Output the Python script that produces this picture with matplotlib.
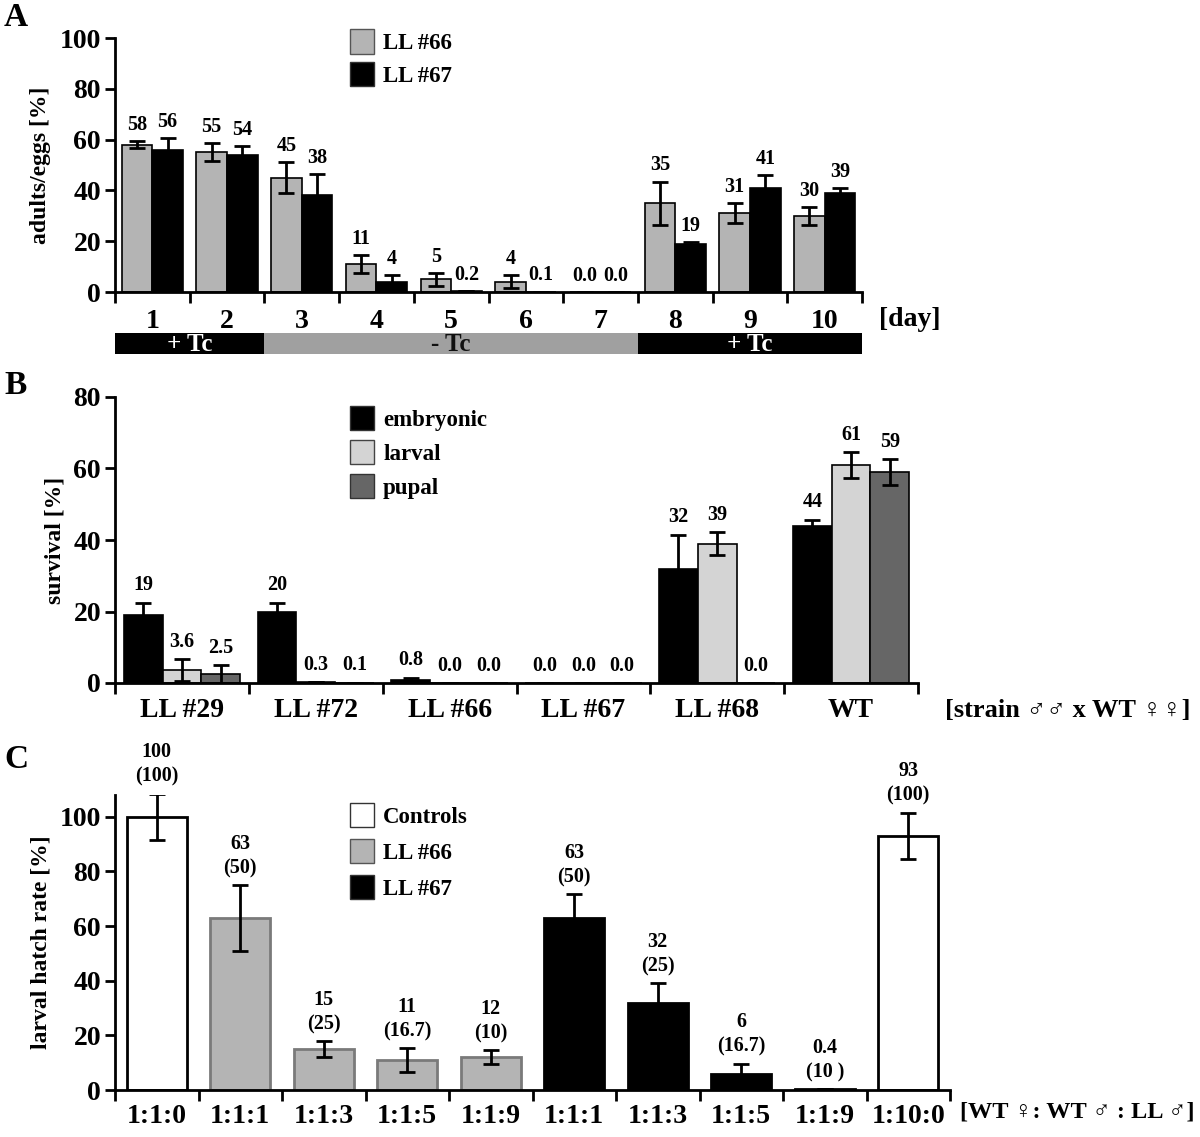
import matplotlib
matplotlib.use("Agg")
import matplotlib.pyplot as plt
from matplotlib.patches import Patch
import numpy as np

plt.rcParams['font.family'] = ['Liberation Serif', 'DejaVu Sans']
plt.rcParams['font.weight'] = 'bold'

# ---------------- Panel A data ----------------
days = ["1", "2", "3", "4", "5", "6", "7", "8", "9", "10"]
a_ll66 = [58, 55, 45, 11, 5, 4, 0, 35, 31, 30]
a_ll66_err = [1.5, 3.5, 6, 3.5, 2.5, 2.5, 0, 8.5, 4, 3.5]
a_ll66_lbl = ["58", "55", "45", "11", "5", "4", "0.0", "35", "31", "30"]
a_ll67 = [56, 54, 38, 4, 0.2, 0.1, 0, 19, 41, 39]
a_ll67_err = [4.5, 3.5, 8.5, 2.5, 0, 0, 0, 0.5, 5, 2]
a_ll67_lbl = ["56", "54", "38", "4", "0.2", "0.1", "0.0", "19", "41", "39"]
tc_labels = ["+ Tc", "- Tc", "+ Tc"]
tc_start_day = [1, 3, 8]
tc_end_day = [2, 7, 10]

# ---------------- Panel B data ----------------
strains = ["LL #29", "LL #72", "LL #66", "LL #67", "LL #68", "WT"]
b_emb = [19, 20, 0.8, 0, 32, 44]
b_emb_err = [3.5, 2.5, 0.7, 0, 9.5, 1.7]
b_emb_lbl = ["19", "20", "0.8", "0.0", "32", "44"]
b_lar = [3.6, 0.3, 0, 0, 39, 61]
b_lar_err = [3, 0, 0, 0, 3.3, 3.7]
b_lar_lbl = ["3.6", "0.3", "0.0", "0.0", "39", "61"]
b_pup = [2.5, 0.1, 0, 0, 0, 59]
b_pup_err = [2.5, 0, 0, 0, 0, 3.7]
b_pup_lbl = ["2.5", "0.1", "0.0", "0.0", "0.0", "59"]

# ---------------- Panel C data ----------------
ratios = ["1:1:0", "1:1:1", "1:1:3", "1:1:5", "1:1:9", "1:1:1", "1:1:3", "1:1:5", "1:1:9", "1:10:0"]
c_vals = [100, 63, 15, 11, 12, 63, 32, 6, 0.4, 93]
c_err = [8.5, 12, 3, 4.4, 2.6, 8.6, 7.1, 3.7, 0, 8.5]
c_obs = ["100", "63", "15", "11", "12", "63", "32", "6", "0.4", "93"]
c_exp = ["(100)", "(50)", "(25)", "(16.7)", "(10)", "(50)", "(25)", "(16.7)", "(10 )", "(100)"]
c_group = ["Controls", "LL #66", "LL #66", "LL #66", "LL #66",
           "LL #67", "LL #67", "LL #67", "LL #67", "Controls"]

GRAY_A = "#b4b4b4"
LIGHT = "#d4d4d4"
DARK = "#666666"
TC_GRAY = "#a0a0a0"

TICK_FS = 20
VAL_FS = 14.5
LEG_FS = 16.5
YLAB_FS = 17

W, H = 1200, 1137
fig = plt.figure(figsize=(W / 100, H / 100), dpi=100)


def fbox(x0, y0, x1, y1):
    return [x0 / W, 1 - y1 / H, (x1 - x0) / W, (y1 - y0) / H]


def style_axes(ax, n, ymax, yticks):
    ax.set_xlim(-0.5, n - 0.5)
    ax.set_ylim(0, ymax)
    for s in ["top", "right"]:
        ax.spines[s].set_visible(False)
    for s in ["left", "bottom"]:
        ax.spines[s].set_linewidth(2)
    ax.set_yticks(yticks)
    ax.set_xticks(np.arange(-0.5, n, 1.0))
    ax.set_xticklabels([])
    ax.tick_params(axis="x", which="major", direction="out", length=8, width=2)
    ax.tick_params(axis="y", which="major", direction="out", length=7, width=2,
                   labelsize=TICK_FS, pad=3)
    for t in ax.get_yticklabels():
        t.set_fontweight("bold")


err_kw = dict(ecolor="black", elinewidth=2, capsize=6, capthick=2)
leg_kw = dict(loc="upper left", frameon=False, prop={"size": LEG_FS, "weight": "bold"},
              handlelength=1.05, handleheight=1.25, handletextpad=0.4, borderaxespad=0)

# ================= Panel A =================
axA = fig.add_axes(fbox(115, 38, 862, 292))
x = np.arange(len(days))
bw = 0.41
axA.bar(x - bw / 2, a_ll66, bw, color=GRAY_A, edgecolor="black", linewidth=1.2,
        yerr=a_ll66_err, error_kw=err_kw, label="LL #66", zorder=2)
axA.bar(x + bw / 2, a_ll67, bw, color="black", edgecolor="black", linewidth=1.2,
        yerr=a_ll67_err, error_kw=err_kw, label="LL #67", zorder=2)
style_axes(axA, len(days), 100, [0, 20, 40, 60, 80, 100])
axA.set_xticks(x, minor=True)
axA.set_xticklabels(days, minor=True, fontsize=TICK_FS, fontweight="bold")
axA.tick_params(axis="x", which="minor", length=0, pad=12)
for xi, v, e, l in zip(x - bw / 2, a_ll66, a_ll66_err, a_ll66_lbl):
    axA.text(xi, v + e + 2.5, l, ha="center", va="bottom", fontsize=VAL_FS, fontweight="bold")
for xi, v, e, l in zip(x + bw / 2, a_ll67, a_ll67_err, a_ll67_lbl):
    axA.text(xi, v + e + 2.5, l, ha="center", va="bottom", fontsize=VAL_FS, fontweight="bold")
axA.set_ylabel("adults/eggs [%]", fontsize=YLAB_FS, fontweight="bold", labelpad=6)
axA.legend(handles=[Patch(facecolor=GRAY_A, edgecolor="#555555", label="LL #66"),
                    Patch(facecolor="black", edgecolor="#333333", label="LL #67")],
           bbox_to_anchor=(0.302, 1.07), labelspacing=0.35, **leg_kw)
fig.text(910 / W, 1 - 320 / H, "[day]", fontsize=TICK_FS, fontweight="bold", ha="center", va="center")

# Tc bar
axT = fig.add_axes(fbox(115, 333, 862, 354))
axT.set_xlim(-0.5, len(days) - 0.5)
axT.set_ylim(0, 1)
axT.axis("off")
for lbl, s, e in zip(tc_labels, tc_start_day, tc_end_day):
    col = "black" if lbl.startswith("+") else TC_GRAY
    tcol = "white" if lbl.startswith("+") else "#111111"
    axT.broken_barh([(s - 1.5, e - s + 1)], (0, 1), facecolors=col)
    axT.text((s + e) / 2 - 1, 0.45, lbl, ha="center", va="center", color=tcol,
             fontsize=18, fontweight="bold")

# ================= Panel B =================
axB = fig.add_axes(fbox(115, 397, 918, 683))
xb = np.arange(len(strains))
bwb = 0.29
series_b = [(b_emb, b_emb_err, b_emb_lbl, "black", "embryonic"),
            (b_lar, b_lar_err, b_lar_lbl, LIGHT, "larval"),
            (b_pup, b_pup_err, b_pup_lbl, DARK, "pupal")]
for k, (vals, errs, lbls, col, name) in enumerate(series_b):
    pos = xb + (k - 1) * bwb
    axB.bar(pos, vals, bwb, color=col, edgecolor="black", linewidth=1.2,
            yerr=errs, error_kw=err_kw, label=name, zorder=2)
    for xi, v, e, l in zip(pos, vals, errs, lbls):
        axB.text(xi, v + e + 2.0, l, ha="center", va="bottom", fontsize=VAL_FS, fontweight="bold")
style_axes(axB, len(strains), 80, [0, 20, 40, 60, 80])
axB.set_xticks(xb, minor=True)
axB.set_xticklabels(strains, minor=True, fontsize=TICK_FS, fontweight="bold")
axB.tick_params(axis="x", which="minor", length=0, pad=11)
axB.set_ylabel("survival [%]", fontsize=YLAB_FS, fontweight="bold", labelpad=6)
axB.legend(handles=[Patch(facecolor="black", edgecolor="#333333", label="embryonic"),
                    Patch(facecolor=LIGHT, edgecolor="#444444", label="larval"),
                    Patch(facecolor=DARK, edgecolor="#333333", label="pupal")],
           bbox_to_anchor=(0.281, 1.0), labelspacing=0.4, **leg_kw)
fig.text(945 / W, 1 - 710 / H, "[strain ♂♂ x WT ♀♀]", fontsize=19, fontweight="bold",
         ha="left", va="center")

# ================= Panel C =================
axC = fig.add_axes(fbox(115, 795, 950, 1090))
xc = np.arange(len(ratios))
cmap = {"Controls": ("white", "black"), "LL #66": (GRAY_A, "#7a7a7a"), "LL #67": ("black", "black")}
fcs = [cmap[g][0] for g in c_group]
ecs = [cmap[g][1] for g in c_group]
axC.bar(xc, c_vals, 0.72, color=fcs, edgecolor=ecs, linewidth=2,
        yerr=c_err, error_kw=err_kw, zorder=2)
for xi, v, e, o, ex in zip(xc, c_vals, c_err, c_obs, c_exp):
    axC.text(xi, v + e + 2.5, o + "\n" + ex, ha="center", va="bottom", fontsize=VAL_FS,
             fontweight="bold", linespacing=1.3)
style_axes(axC, len(ratios), 108, [0, 20, 40, 60, 80, 100])
axC.set_xticks(xc, minor=True)
axC.set_xticklabels(ratios, minor=True, fontsize=TICK_FS, fontweight="bold")
axC.tick_params(axis="x", which="minor", length=0, pad=10)
axC.set_ylabel("larval hatch rate [%]", fontsize=YLAB_FS, fontweight="bold", labelpad=6)
axC.legend(handles=[Patch(facecolor="white", edgecolor="#333333", label="Controls"),
                    Patch(facecolor=GRAY_A, edgecolor="#555555", label="LL #66"),
                    Patch(facecolor="black", edgecolor="#333333", label="LL #67")],
           bbox_to_anchor=(0.27, 1.005), labelspacing=0.5, **leg_kw)
fig.text(960 / W, 1 - 1112 / H, "[WT ♀: WT ♂ : LL ♂]", fontsize=17.5, fontweight="bold",
         ha="left", va="center")

# panel letters
for lbl, yy in [("A", 17), ("B", 385), ("C", 760)]:
    fig.text(4 / W, 1 - yy / H, lbl, fontsize=24, fontweight="bold", ha="left", va="center")

fig.savefig("out.png", dpi=100)
